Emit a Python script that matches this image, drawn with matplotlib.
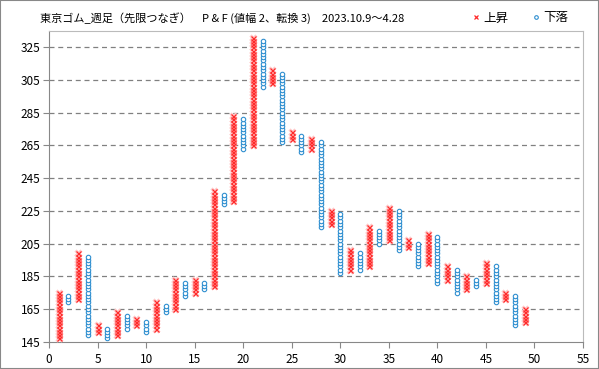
import numpy as np
import matplotlib
matplotlib.use("Agg")
import matplotlib.pyplot as plt
from matplotlib.lines import Line2D
from matplotlib.patches import Rectangle

plt.rcParams['font.family'] = ['Noto Sans CJK JP', 'DejaVu Sans']

# P&F columns (box 2, reversal 3): odd columns are X (up), even are O (down)
col_low = [147, 169, 171, 149, 151, 147, 149, 153, 155, 151,
           153, 163, 165, 173, 175, 177, 179, 229, 231, 263,
           265, 301, 303, 267, 269, 261, 263, 215, 217, 187,
           189, 189, 191, 205, 207, 201, 203, 191, 193, 181,
           183, 175, 177, 179, 181, 169, 171, 155, 157]
col_high = [175, 173, 199, 197, 155, 153, 163, 161, 159, 157,
            169, 167, 183, 181, 183, 181, 237, 235, 283, 281,
            331, 329, 311, 309, 273, 271, 269, 267, 225, 223,
            201, 199, 215, 213, 227, 225, 207, 205, 211, 209,
            191, 189, 185, 183, 193, 191, 175, 173, 165]
box = 2

title = "東京ゴム_週足（先限つなぎ）　P & F (値幅 2、転換 3)　2023.10.9～4.28"
y_ticks = list(range(145, 326, 20))
x_ticks = list(range(0, 56, 5))

red = "#FF2A2A"
blue = "#2F8FD0"

fig = plt.figure(figsize=(5.99, 3.69), dpi=100)
ax = fig.add_axes([49 / 599, 1 - 341.7 / 369, 534 / 599, 310.7 / 369])

for i, (lo, hi) in enumerate(zip(col_low, col_high)):
    col = i + 1
    vals = np.arange(lo, hi + 1, box)
    xs = np.full(len(vals), col)
    if i % 2 == 0:
        ax.plot(xs, vals, ls="none", marker="x", ms=4.2, mew=2.2,
                color="#FFC8C8", zorder=3)
        ax.plot(xs, vals, ls="none", marker="x", ms=3.6, mew=0.9,
                color=red, zorder=4)
    else:
        ax.plot(xs, vals, ls="none", marker="o", ms=3.2, mew=0.8,
                mfc="white", mec=blue, zorder=4)

ax.set_xlim(0, 55)
ax.set_ylim(145, 335)
ax.set_xticks(x_ticks)
ax.set_yticks(y_ticks)
ax.tick_params(labelsize=8.5, length=4, color="#888888", pad=2)
ax.tick_params(axis="x", pad=4)
for t in y_ticks[1:]:
    ax.axhline(t, color="#808080", lw=0.9, ls=(0, (4, 3)), zorder=1)
for s in ["left", "bottom"]:
    ax.spines[s].set_color("#888888")
for s in ["top", "right"]:
    ax.spines[s].set_color("#BBBBBB")

fig.text(40 / 599, 1 - 18 / 369, title, fontsize=8, va="center", ha="left")

handles = [
    Line2D([], [], ls="none", marker="x", ms=3.2, mew=0.9, color=red, label="上昇"),
    Line2D([], [], ls="none", marker="o", ms=2.6, mew=0.8, mfc="white", mec=blue, label="下落"),
]
fig.legend(handles=handles, loc="center right", ncol=2, frameon=False,
           fontsize=9, bbox_to_anchor=(580 / 599, 1 - 18 / 369),
           handlelength=0.8, handletextpad=0.2, columnspacing=1.8)

fig.add_artist(Rectangle((0, 0), 1, 1, transform=fig.transFigure,
                         fill=False, ec="#888888", lw=1.5))

fig.savefig("out.png", dpi=100)
